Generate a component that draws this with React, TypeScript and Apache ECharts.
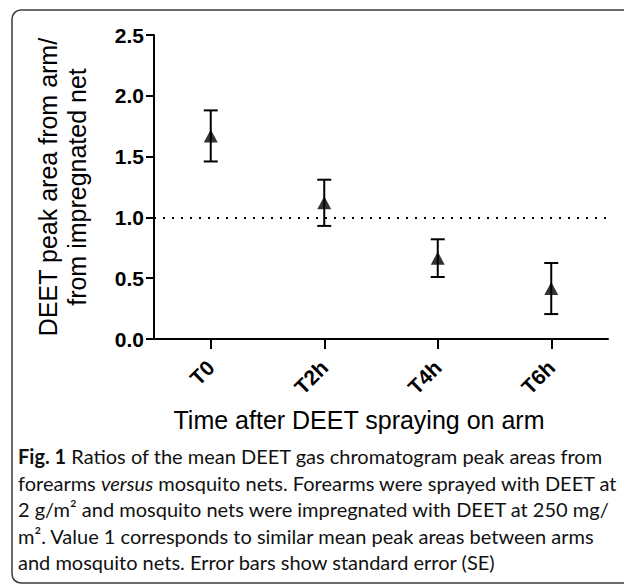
import React, { useEffect, useRef } from "react";
import * as echarts from "echarts";

const categories = ["T0", "T2h", "T4h", "T6h"];
const means = [1.67, 1.12, 0.665, 0.415];
const standardErrors = [0.21, 0.19, 0.155, 0.21];
const referenceValue = 1.0;
const yMin = 0;
const yMax = 2.5;
const yInterval = 0.5;

const yTitleLines = ["DEET peak area from arm/", "from impregnated net"];
const xTitle = "Time after DEET spraying on arm";
const captionLines = [
  "{b|Fig. 1} Ratios of the mean DEET gas chromatogram peak areas from",
  "forearms {i|versus} mosquito nets. Forearms were sprayed with DEET at",
  "2 g/m² and mosquito nets were impregnated with DEET at 250 mg/",
  "m². Value 1 corresponds to similar mean peak areas between arms",
  "and mosquito nets. Error bars show standard error (SE)",
];

const ARIAL = "'Liberation Sans', Arial, sans-serif";
const CAPTION_FONT = "Lato, 'Open Sans', sans-serif";
const CAPTION_SIZE = 20;

export default function App() {
  const ref = useRef<HTMLDivElement>(null);

  useEffect(() => {
    if (!ref.current) return;
    const chart = echarts.init(ref.current, undefined, { renderer: "svg" });

    const errorData = means.map((m, i) => [i, m - standardErrors[i], m + standardErrors[i]]);

    const captionGraphics = captionLines.map((line, i) => ({
      type: "text",
      x: 18,
      y: 456 + i * 26.5,
      style: {
        text: line,
        fill: "#111",
        fontFamily: CAPTION_FONT,
        fontSize: CAPTION_SIZE,
        verticalAlign: "middle",
        align: "left",
        rich: {
          b: { fontWeight: "bold", fontSize: CAPTION_SIZE, fontFamily: CAPTION_FONT, fill: "#111" },
          i: { fontStyle: "italic", fontSize: CAPTION_SIZE, fontFamily: CAPTION_FONT, fill: "#111" },
        },
      },
    }));

    const option: any = {
      animation: false,
      grid: { left: 154, right: 16, top: 35, bottom: 245, containLabel: false },
      xAxis: {
        type: "category",
        data: categories,
        boundaryGap: true,
        axisLine: { show: true, lineStyle: { color: "#000", width: 2 } },
        axisTick: { show: true, alignWithLabel: true, length: 10, lineStyle: { color: "#000", width: 2 } },
        axisLabel: {
          rotate: 45,
          margin: 25,
          color: "#000",
          fontSize: 21,
          fontWeight: "bold",
          fontFamily: ARIAL,
        },
        splitLine: { show: false },
      },
      yAxis: {
        type: "value",
        min: yMin,
        max: yMax,
        interval: yInterval,
        axisLine: { show: true, lineStyle: { color: "#000", width: 2 } },
        axisTick: { show: true, length: 8, lineStyle: { color: "#000", width: 2 } },
        axisLabel: {
          margin: 10,
          color: "#000",
          fontSize: 21,
          fontWeight: "bold",
          fontFamily: ARIAL,
          formatter: (v: number) => v.toFixed(1),
        },
        splitLine: { show: false },
      },
      series: [
        {
          type: "custom",
          data: errorData,
          renderItem: (params: any, api: any) => {
            const x = api.value(0);
            const lo = api.coord([x, api.value(1)]);
            const hi = api.coord([x, api.value(2)]);
            const w = 7;
            const style = { stroke: "#000", lineWidth: 2 };
            return {
              type: "group",
              children: [
                { type: "line", shape: { x1: hi[0], y1: hi[1], x2: lo[0], y2: lo[1] }, style },
                { type: "line", shape: { x1: hi[0] - w, y1: hi[1], x2: hi[0] + w, y2: hi[1] }, style },
                { type: "line", shape: { x1: lo[0] - w, y1: lo[1], x2: lo[0] + w, y2: lo[1] }, style },
              ],
            };
          },
          z: 2,
        },
        {
          type: "scatter",
          data: means,
          symbol: "triangle",
          symbolSize: [14, 13],
          itemStyle: { color: "#000" },
          z: 3,
          markLine: {
            silent: true,
            symbol: ["none", "none"],
            label: { show: false },
            lineStyle: { color: "#000", width: 2, type: [2, 7] },
            data: [{ yAxis: referenceValue }],
          },
        },
      ],
      graphic: [
        {
          type: "rect",
          shape: { x: 12, y: 10, width: 650, height: 573, r: 9 },
          style: { fill: "none", stroke: "#3a3a3a", lineWidth: 1.5 },
          silent: true,
        },
        {
          type: "text",
          x: 48,
          y: 187,
          rotation: Math.PI / 2,
          style: {
            text: yTitleLines[0],
            fill: "#000",
            fontSize: 25,
            fontFamily: ARIAL,
            align: "center",
            verticalAlign: "middle",
          },
        },
        {
          type: "text",
          x: 77,
          y: 187,
          rotation: Math.PI / 2,
          style: {
            text: yTitleLines[1],
            fill: "#000",
            fontSize: 25,
            fontFamily: ARIAL,
            align: "center",
            verticalAlign: "middle",
          },
        },
        {
          type: "text",
          x: 359,
          y: 420,
          style: {
            text: xTitle,
            fill: "#000",
            fontSize: 25,
            fontFamily: ARIAL,
            align: "center",
            verticalAlign: "middle",
          },
        },
        ...captionGraphics,
      ],
    };

    chart.setOption(option);
    return () => chart.dispose();
  }, []);

  return (
    <div
      ref={ref}
      style={{ position: "absolute", left: 0, top: 0, width: 624, height: 584, background: "#fff" }}
    />
  );
}
